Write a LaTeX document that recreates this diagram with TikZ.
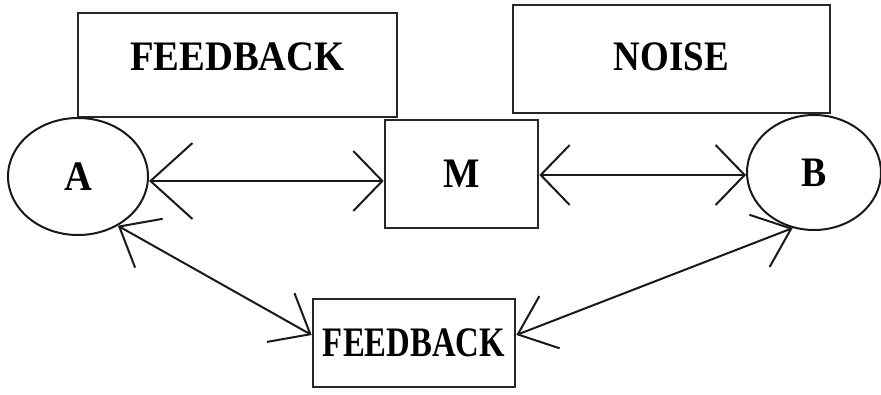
\documentclass[tikz,border=0pt]{standalone}
\usepackage{fontspec}
\setmainfont{Liberation Serif}
\usetikzlibrary{arrows.meta,shapes.geometric}
\begin{document}
\begin{tikzpicture}[x=1pt,y=-1pt,
  txt/.style={font=\fontsize{42}{42}\selectfont\bfseries},
  box/.style={draw=black!85,line width=2.6pt,rectangle,inner sep=0pt},
  oval/.style={draw=black!90,line width=2pt,ellipse,inner sep=0pt},
  arr/.style={draw=black!90,line width=2pt},
  bigtip/.tip={Straight Barb[length=42pt,width=76pt,line width=2pt]},
  midtip/.tip={Straight Barb[length=34pt,width=56pt,line width=2pt]},
  smalltip/.tip={Straight Barb[length=29pt,width=60pt,line width=2pt]}]
\useasboundingbox (0,0) rectangle (881,394);
% top boxes
\node[box,minimum width=319pt,minimum height=104pt,
  label={[txt,yshift=8pt]center:\scalebox{0.92}[1]{FEEDBACK}}] (F1) at (237.5,65) {};
\node[box,minimum width=317pt,minimum height=108pt,
  label={[txt,yshift=2pt]center:\scalebox{0.88}[1]{NOISE}}] (N) at (671.5,59) {};
% main nodes
\node[oval,minimum width=140pt,minimum height=117pt,txt] (A) at (78,176.5) {\scalebox{0.92}[1]{A}};
\node[box,minimum width=153pt,minimum height=108pt,txt] (M) at (461.5,174) {\scalebox{0.92}[1]{M}};
\node[oval,minimum width=134pt,minimum height=115pt,txt] (B) at (814,172.5) {\scalebox{0.9}[1]{B}};
\node[box,minimum width=202pt,minimum height=88pt,txt] (F2) at (414,343) {\scalebox{0.78}[1]{FEEDBACK}};
% connectors
\draw[arr,{bigtip}-{smalltip}] (A.east |- 0,181) -- (M.west |- 0,181);
\draw[arr,{smalltip}-{smalltip}] (M.east |- 0,175) -- (B.west |- 0,175);
\draw[arr,{midtip}-{midtip}] (A.-51) -- ([yshift=8pt]F2.west);
\draw[arr,{midtip}-{midtip}] ([yshift=8pt]F2.east) -- (B.-111);
\end{tikzpicture}
\end{document}
